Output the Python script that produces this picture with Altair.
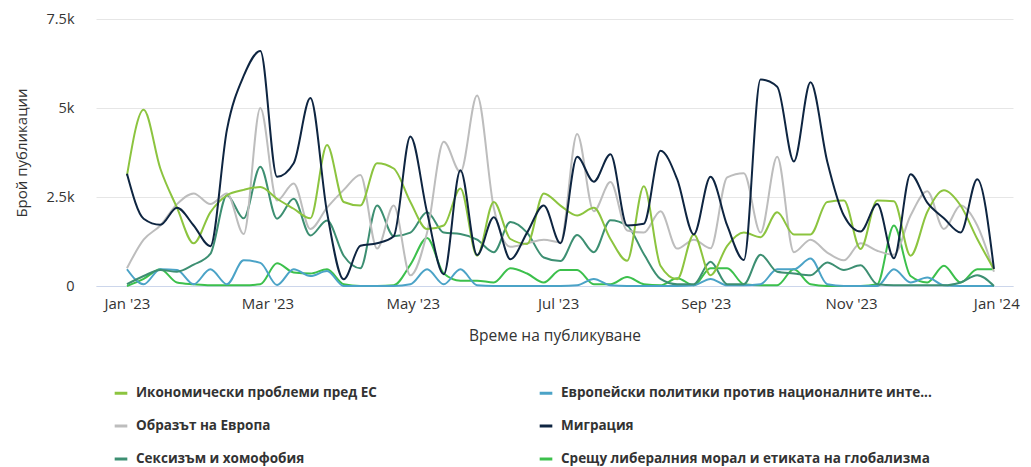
import altair as alt
import pandas as pd

# Weekly dates (Sundays) through 2023
weeks = [d.strftime("%Y-%m-%dT00:00:00") for d in pd.date_range("2023-01-01", periods=53, freq="7D")]

n_econ = "Икономически проблеми пред ЕС"
n_europe = "Европейски политики против националните инте..."
n_image = "Образът на Европа"
n_migr = "Миграция"
n_sex = "Сексизъм и хомофобия"
n_lib = "Срещу либералния морал и етиката на глобализма"

# legend is filled column by column
legend_order = [n_econ, n_image, n_sex, n_europe, n_migr, n_lib]
legend_colors = ["#8cc43f", "#bdbdbd", "#3d8f72", "#4ba3c7", "#0e2541", "#3cc04c"]

# values in thousands of publications, one per week
econ = [3.1, 4.95, 3.3, 2.2, 1.2, 2.07, 2.55, 2.7, 2.78, 2.45, 2.17, 1.9, 3.96, 2.36, 2.26, 3.45,
        3.3, 2.36, 1.6, 1.7, 2.74, 0.85, 2.36, 1.32, 1.18, 2.6, 2.26, 1.98, 2.2, 1.32, 0.71, 2.8,
        0.57, 0.19, 1.45, 0.3, 1.13, 1.5, 1.37, 2.07, 1.45, 1.45, 2.36, 2.4, 1.04, 2.4, 2.38, 0.85,
        2.08, 2.69, 2.26, 1.32, 0.47]
europe = [0.47, 0.05, 0.47, 0.45, 0.05, 0.47, 0.05, 0.72, 0.65, 0.03, 0.47, 0.28, 0.42, 0.0, 0.0, 0.0,
          0.0, 0.05, 0.47, 0.05, 0.47, 0.02, 0.0, 0.0, 0.0, 0.0, 0.0, 0.02, 0.2, 0.02, 0.0, 0.0,
          0.0, 0.0, 0.02, 0.2, 0.02, 0.02, 0.05, 0.47, 0.47, 0.77, 0.05, 0.0, 0.0, 0.0, 0.47, 0.1,
          0.24, 0.02, 0.0, 0.0, 0.0]
image = [0.5, 1.3, 1.7, 2.3, 2.6, 2.3, 2.6, 1.46, 5.0, 2.4, 2.88, 1.6, 2.2, 2.7, 3.12, 1.05,
         2.26, 0.3, 1.5, 4.05, 3.2, 5.35, 2.2, 1.1, 1.2, 1.3, 1.23, 4.27, 2.1, 2.92, 1.56, 1.5,
         2.1, 1.05, 1.3, 1.06, 3.05, 3.17, 1.5, 3.63, 0.95, 1.3, 0.94, 0.72, 1.2, 0.99, 0.88, 1.98,
         2.66, 1.6, 2.26, 1.7, 0.4]
migration = [3.15, 1.89, 1.72, 2.2, 1.7, 1.12, 4.4, 5.9, 6.6, 3.07, 3.45, 5.28, 2.07, 0.19, 1.13, 1.2,
             1.4, 4.2, 2.07, 0.33, 3.25, 0.87, 1.93, 0.75, 1.5, 2.26, 1.2, 3.63, 2.93, 3.7, 1.7, 1.75,
             3.8, 3.0, 1.45, 3.07, 1.7, 0.73, 5.8, 5.6, 3.5, 5.72, 3.5, 1.98, 1.53, 2.3, 0.78, 3.14,
             2.34, 1.9, 1.5, 3.0, 0.48]
sexism = [0.05, 0.28, 0.45, 0.4, 0.6, 0.9, 2.55, 1.9, 3.35, 1.89, 2.45, 1.42, 1.84, 0.85, 0.5, 2.26,
          1.4, 1.5, 2.07, 1.5, 1.46, 1.3, 0.95, 1.8, 1.5, 0.8, 0.7, 1.43, 0.95, 1.85, 1.7, 0.9,
          0.2, 0.05, 0.05, 0.68, 0.05, 0.05, 0.88, 0.4, 0.35, 0.3, 0.66, 0.45, 0.58, 0.05, 0.02, 0.02,
          0.02, 0.02, 0.1, 0.3, 0.0]
liberal = [0.0, 0.2, 0.47, 0.1, 0.05, 0.02, 0.02, 0.02, 0.05, 0.64, 0.38, 0.35, 0.47, 0.05, 0.0, 0.0,
           0.02, 0.6, 1.35, 0.35, 0.15, 0.15, 0.1, 0.5, 0.35, 0.1, 0.45, 0.45, 0.05, 0.05, 0.25, 0.05,
           0.02, 0.22, 0.02, 0.5, 0.5, 0.05, 0.02, 0.02, 0.47, 0.05, 0.0, 0.0, 0.0, 0.05, 1.7, 0.28,
           0.1, 0.57, 0.1, 0.47, 0.47]

draw_order = [
    (n_lib, liberal),
    (n_europe, europe),
    (n_sex, sexism),
    (n_image, image),
    (n_econ, econ),
    (n_migr, migration),
]
rows = []
for i, (name, vals) in enumerate(draw_order):
    for w, v in zip(weeks, vals):
        rows.append({"date": w, "series": name, "value": v * 1000, "ord": i})
df = pd.DataFrame(rows)

FONT = "Open Sans"

x_ticks = [alt.DateTime(year=2023, month=m, date=1) for m in [1, 3, 5, 7, 9, 11]] + [
    alt.DateTime(year=2024, month=1, date=1)
]

chart = (
    alt.Chart(df)
    .mark_line(interpolate="monotone", strokeWidth=2)
    .encode(
        x=alt.X(
            "date:T",
            scale=alt.Scale(
                domain=[alt.DateTime(year=2022, month=12, date=19), alt.DateTime(year=2024, month=1, date=8)]
            ),
            axis=alt.Axis(
                values=x_ticks,
                format="%b '%y",
                title="Време на публикуване",
                grid=False,
                ticks=False,
                domain=True,
                domainColor="#ccd6eb",
                labelPadding=10,
                titlePadding=17,
                labelFontSize=15,
                titleFontSize=15.5,
                titleFontWeight="normal",
            ),
        ),
        y=alt.Y(
            "value:Q",
            scale=alt.Scale(domain=[0, 7500], nice=False),
            axis=alt.Axis(
                values=[0, 2500, 5000, 7500],
                labelExpr="datum.value == 0 ? '0' : format(datum.value / 1000, '~g') + 'k'",
                title="Брой публикации",
                ticks=False,
                domain=False,
                gridColor="#e6e6e6",
                labelPadding=22,
                titlePadding=16,
                labelFontSize=14.5,
                titleFontSize=15,
                titleFontWeight="normal",
            ),
        ),
        color=alt.Color(
            "series:N",
            scale=alt.Scale(domain=legend_order, range=legend_colors),
            legend=alt.Legend(
                title=None,
                orient="none",
                legendX=17,
                legendY=366,
                columns=2,
                columnPadding=156,
                rowPadding=18,
                symbolType="stroke",
                symbolSize=160,
                symbolStrokeWidth=3,
                labelFontSize=13.5,
                labelFontWeight="bold",
                labelColor="#333333",
                labelLimit=500,
                labelOffset=7,
            ),
        ),
        order=alt.Order("ord:Q"),
    )
    .properties(
        width=917,
        height=267,
        autosize=alt.AutoSizeParams(type="none"),
        padding={"left": 88, "top": 11, "right": 10, "bottom": 190},
    )
    .configure(font=FONT)
    .configure_axis(labelColor="#333333", titleColor="#333333", labelFont=FONT, titleFont=FONT)
    .configure_legend(labelFont=FONT)
    .configure_view(stroke=None)
)

chart.save("out.html", embed_options={"renderer": "svg", "actions": False})
